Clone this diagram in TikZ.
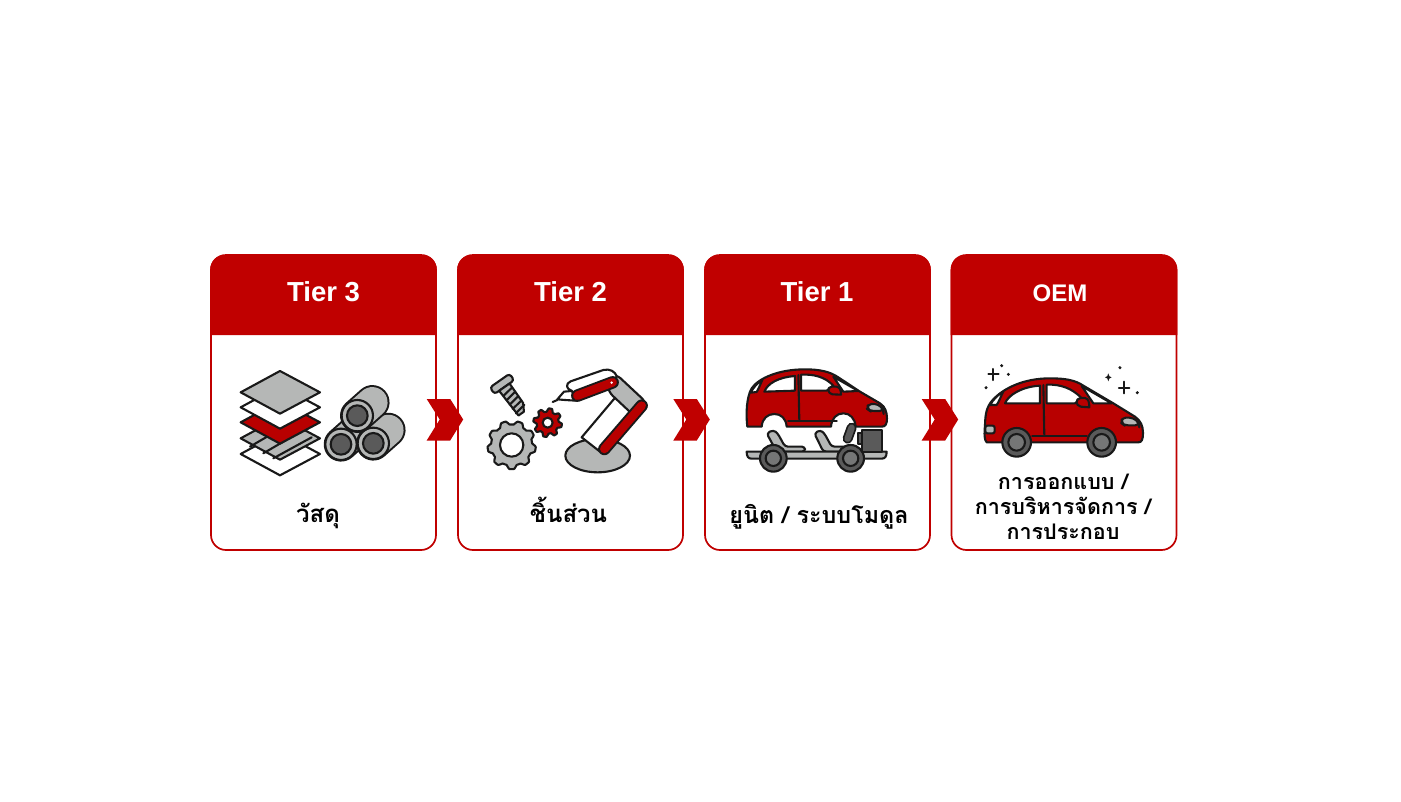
\documentclass[tikz,border=0pt]{standalone}
\usepackage{fontspec}
\setmainfont{Liberation Sans}
\newfontfamily\thaifont[Script=Thai]{Loma}
\definecolor{tred}{HTML}{C00000}
\definecolor{ired}{HTML}{B80000}
\definecolor{igrey}{HTML}{B5B7B6}
\definecolor{idark}{HTML}{5A5A5A}
\tikzset{
  cardbox/.style={draw=tred,line width=1.7pt,fill=white,rounded corners=15pt,minimum width=225pt,minimum height=295pt,inner sep=0pt},
  headtext/.style={text=white,font=\bfseries\fontsize{27.5}{30}\selectfont,inner sep=0pt},
  thaitext/.style={text=black,font=\thaifont\bfseries\fontsize{24}{25}\selectfont,align=center,inner sep=0pt,anchor=base},
  thaismall/.style={text=black,font=\thaifont\bfseries\fontsize{21.5}{25}\selectfont,align=center,inner sep=0pt},
  ink/.style={draw=black!90,line width=2.1pt,line join=round,line cap=round},
  chev/.style={fill=tred,draw=none},
  zoomA/.style={shift={(205,350)},x=0.3333pt,y=-0.3333pt},
  zoomB/.style={shift={(460,350)},x=0.3333pt,y=-0.3333pt},
  zoomC/.style={shift={(705,350)},x=0.3333pt,y=-0.3333pt},
  zoomD/.style={shift={(950,350)},x=0.3333pt,y=-0.3333pt},
}
\newcommand{\sheet}[2]{\draw[ink,fill=#2] (107,#1) -- (225,#1-64) -- (345,#1) -- (225,#1+64) -- cycle;}
\newcommand{\steelroll}[2]{
  \draw[line width=34.5pt,line cap=round,black!90] (#1,#2) -- (#1+45,#2-40);
  \draw[line width=30.5pt,line cap=round,igrey] (#1,#2) -- (#1+45,#2-40);
  \draw[ink,fill=igrey] (#1,#2) circle (47);
  \draw[ink,fill=idark] (#1,#2) circle (31);
}
\newcommand{\gearwheel}[6]{
  \draw[ink,fill=#6] plot[domain=0:360,samples=216,smooth cycle] ({#1+(#3+#4*max(-1,min(1,1.6*sin(#5*\x))))*cos(\x)},{#2+(#3+#4*max(-1,min(1,1.6*sin(#5*\x))))*sin(\x)});
}
\begin{document}
\begin{tikzpicture}[x=1pt,y=-1pt]
\useasboundingbox (0,0) rectangle (1401,801);
\fill[white] (0,0) rectangle (1401,801);

\foreach \cname/\cx in {c1/323.5,c2/570.5,c3/817.5,c4/1064}{
  \node[cardbox] (\cname) at (\cx,402.5) {};
  \fill[tred] (\cx-113.3,335) -- (\cx-113.3,270) .. controls (\cx-113.3,261) and (\cx-107,255) .. (\cx-98.3,255) -- (\cx+98.3,255) .. controls (\cx+107,255) and (\cx+113.3,261) .. (\cx+113.3,270) -- (\cx+113.3,335) -- cycle;
}
\node[headtext] (h1) at (323.5,292) {Tier 3};
\node[headtext] (h2) at (570.5,292) {Tier 2};
\node[headtext] (h3) at (817,292) {Tier 1};
\node[headtext,font=\bfseries\fontsize{24}{28}\selectfont] (h4) at (1060,293) {OEM};

\node[thaitext] (t1) at (318,522) {วัสดุ};
\node[thaitext] (t2) at (568.5,522) {ชิ้นส่วน};
\node[thaitext,font=\thaifont\bfseries\fontsize{23.3}{25}\selectfont] (t3) at (819,523) {ยูนิต / ระบบโมดูล};
\node[thaismall] (t4) at (1063,507) {การออกแบบ /\\การบริหารจัดการ /\\การประกอบ};

\foreach \chx in {426.7,673.3,921.7}{
  \fill[chev] (\chx,399) -- (\chx+23.5,399) -- (\chx+36.5,419.5) -- (\chx+23.5,440.5) -- (\chx,440.5) -- (\chx+13,419.5) -- cycle;
}

\begin{scope}[zoomA]
  \sheet{312}{white}
  \sheet{265}{igrey}
  \draw[ink] (135,290) -- (200,252) (175,310) -- (240,272) (205,325) -- (320,262);
  \sheet{217}{ired}
  \sheet{172}{white}
  \sheet{127}{igrey}
  \steelroll{408}{283}
  \steelroll{505}{280}
  \steelroll{457}{197}
\end{scope}

\begin{scope}[zoomB]
  \begin{scope}[shift={(125,100)},rotate=-55]
    \draw[ink,fill=igrey,rounded corners=3pt] (-10,-36) rectangle (14,36);
    \draw[ink,fill=igrey] (14,-19) -- (85,-19) -- (108,-6) -- (108,14) -- (14,19) -- cycle;
    \foreach \bx in {28,44,60,76,92}{\draw[ink] (\bx,-19) -- (\bx+6,17);}
  \end{scope}
  \gearwheel{155}{285}{67}{5.5}{9}{igrey}
  \draw[ink,fill=white] (155,285) circle (35);
  \gearwheel{263}{218}{38}{5}{8}{ired}
  \draw[ink,fill=white] (263,218) circle (15);
  \draw[ink,fill=igrey] (413,317) ellipse (97 and 50);
  \draw[ink,fill=white] (365,262) -- (468,140) -- (525,190) -- (420,305) -- cycle;
  \draw[ink,fill=igrey,rounded corners=6pt] (440,85) -- (468,72) -- (560,158) -- (525,200) -- (445,125) -- cycle;
  \draw[line width=12.5pt,line cap=round,black!90] (433,297) -- (545,167);
  \draw[line width=8.6pt,line cap=round,ired] (433,297) -- (545,167);
  \draw[ink,fill=white] (345,122) -- (312,125) -- (292,148) -- (315,150) -- (348,152) -- cycle;
  \draw[ink] (292,150) -- (278,156);
  \draw[ink,fill=white] (335,122) .. controls (318,118) and (316,100) .. (332,94) -- (430,60) .. controls (450,55) and (465,65) .. (470,78) -- (455,110) -- (350,150) -- cycle;
  \draw[line width=12.5pt,line cap=round,black!90] (352,137) -- (458,97);
  \draw[line width=8.6pt,line cap=round,ired] (352,137) -- (458,97);
  \fill[white] (455,98) circle (4);
\end{scope}

\begin{scope}[zoomC]
  \draw[ink,fill=igrey,rounded corners=3pt] (185,250) -- (205,240) -- (218,250) -- (240,290) -- (300,290) -- (300,305) -- (215,305) -- cycle;
  \draw[ink,fill=igrey,rounded corners=3pt] (328,250) -- (346,240) -- (358,250) -- (380,290) -- (445,290) -- (445,305) -- (355,305) -- cycle;
  \draw[ink,fill=igrey] (125,305) -- (545,305) .. controls (545,320) and (540,326) .. (530,326) -- (140,326) .. controls (130,326) and (125,320) .. (125,305) -- cycle;
  \draw[ink,fill=idark] (458,248) rectangle (470,282);
  \draw[ink,fill=idark] (470,240) rectangle (530,305);
  \draw[line width=10pt,line cap=round,black!90] (440,233) -- (428,266);
  \draw[line width=6.5pt,line cap=round,idark] (440,233) -- (428,266);
  \foreach \wx in {205,437}{
    \draw[ink,fill=idark] (\wx,325) circle (40);
    \draw[ink,fill=igrey!30!idark] (\wx,325) circle (23);
  }
  \draw[ink,fill=ired] (127,230) .. controls (122,190) and (125,140) .. (140,115) .. controls (160,85) and (220,58) .. (300,58) .. controls (345,58) and (375,65) .. (400,82) -- (465,125) -- (525,160) .. controls (540,170) and (546,185) .. (546,205) .. controls (546,222) and (542,230) .. (530,230) -- (452,230) .. controls (450,205) and (435,190) .. (415,190) .. controls (395,190) and (380,205) .. (378,230) -- (245,230) .. controls (243,205) and (228,192) .. (208,192) .. controls (188,192) and (172,205) .. (170,230) -- cycle;
  \draw[ink,fill=white] (137,128) .. controls (145,112) and (158,98) .. (172,90) .. controls (165,105) and (160,118) .. (155,126) -- cycle;
  \draw[ink,fill=white] (178,125) .. controls (188,100) and (220,82) .. (270,78) -- (270,122) -- cycle;
  \draw[ink,fill=white] (288,122) -- (288,74) .. controls (325,72) and (360,80) .. (385,107) -- (365,122) -- cycle;
  \draw[ink,fill=white] (385,80) -- (460,123) -- (415,125) -- cycle;
  \draw[ink,fill=ired] (408,134) -- (382,133) .. controls (368,130) and (365,112) .. (380,110) -- (395,110) .. controls (405,112) and (408,120) .. (408,134) -- cycle;
  \draw[ink] (280,75) -- (283,210);
  \draw[ink,line width=2.6pt] (250,213) -- (395,213);
  \draw[ink,fill=igrey,rounded corners=4pt] (488,162) -- (520,162) -- (536,180) -- (536,183) -- (495,183) -- (488,178) -- cycle;
\end{scope}

\begin{scope}[zoomD]
  \draw[ink,fill=ired] (110,277) .. controls (102,270) and (103,250) .. (105,225) .. controls (106,190) and (110,170) .. (128,150) .. controls (160,115) and (220,85) .. (300,85) .. controls (345,85) and (375,90) .. (400,107) -- (490,160) -- (555,200) .. controls (572,212) and (579,228) .. (579,248) .. controls (579,270) and (575,277) .. (565,277) -- cycle;
  \draw[ink,fill=white] (120,165) .. controls (130,148) and (145,133) .. (160,125) .. controls (152,140) and (147,155) .. (140,165) -- cycle;
  \draw[ink,fill=white] (165,160) .. controls (175,135) and (215,110) .. (270,107) -- (270,160) -- cycle;
  \draw[ink,fill=white] (290,160) -- (290,104) .. controls (330,102) and (368,115) .. (395,145) -- (375,160) -- cycle;
  \draw[ink,fill=white] (395,108) -- (485,160) -- (430,160) -- cycle;
  \draw[ink,fill=ired] (418,172) -- (392,170) .. controls (376,166) and (375,146) .. (392,144) -- (405,144) .. controls (416,146) and (418,158) .. (418,172) -- cycle;
  \draw[ink] (280,105) -- (283,257);
  \draw[ink,line width=2.6pt] (247,258) -- (410,258);
  \draw[ink,fill=igrey,rounded corners=4pt] (515,203) -- (550,203) -- (568,220) -- (568,226) -- (523,226) -- (515,220) -- cycle;
  \draw[ink,fill=igrey,rounded corners=2pt] (106,227) -- (134,227) -- (134,250) -- (106,250) -- cycle;
  \foreach \wx in {200,455}{
    \draw[ink,fill=idark] (\wx,277) circle (43);
    \draw[ink,fill=igrey!30!idark] (\wx,277) circle (25);
  }
  \draw[ink] (130,57) -- (130,90) (115,73) -- (146,73);
  \draw[ink] (522,95) -- (522,130) (507,113) -- (538,113);
  \fill[black!90] (475,70) .. controls (477,79) and (478,80) .. (485,82) .. controls (478,84) and (477,85) .. (475,94) .. controls (473,85) and (472,84) .. (465,82) .. controls (472,80) and (473,79) .. (475,70) -- cycle;
  \foreach \sx/\sy in {155/47,175/73,108/113,510/53,562/128}{\fill[black!90] (\sx,\sy) circle (5);}
\end{scope}
\end{tikzpicture}
\end{document}
